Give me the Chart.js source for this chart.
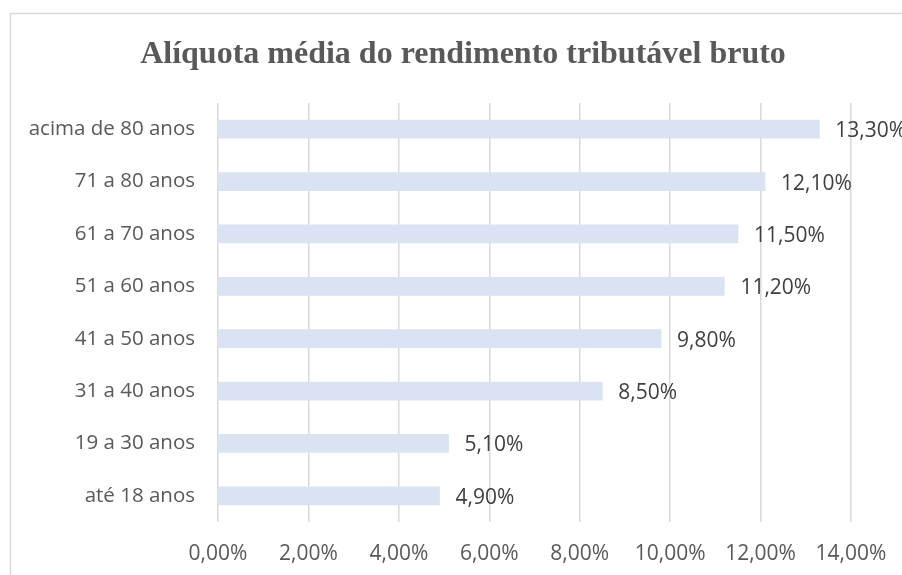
<!DOCTYPE html>
<html>
<head>
<meta charset="utf-8">
<script src="https://cdn.jsdelivr.net/npm/chart.js@4/dist/chart.umd.min.js"></script>
<style>
html,body{margin:0;padding:0;background:#fff;}
#wrap{position:relative;width:902px;height:575px;}
</style>
</head>
<body>
<div id="wrap"><canvas id="c" width="902" height="575"></canvas></div>
<script>
const categories = ["acima de 80 anos","71 a 80 anos","61 a 70 anos","51 a 60 anos","41 a 50 anos","31 a 40 anos","19 a 30 anos","até 18 anos"];
const values = [13.3, 12.1, 11.5, 11.2, 9.8, 8.5, 5.1, 4.9];
const tickValues = [0, 2, 4, 6, 8, 10, 12, 14];
const titleText = "Alíquota média do rendimento tributável bruto";

const fmt = v => v.toFixed(2).replace('.', ',') + '%';
const FONT_FAMILY = "'Open Sans', sans-serif";

const borderPlugin = {
  id: 'frame',
  beforeDraw(chart) {
    const ctx = chart.ctx;
    ctx.save();
    ctx.strokeStyle = '#d9d9d9';
    ctx.lineWidth = 1.5;
    ctx.beginPath();
    ctx.moveTo(10.5, 600);
    ctx.lineTo(10.5, 13.5);
    ctx.lineTo(910, 13.5);
    ctx.stroke();
    ctx.restore();
  }
};

const titlePlugin = {
  id: 'customTitle',
  afterDraw(chart) {
    const ctx = chart.ctx;
    ctx.save();
    ctx.font = "bold 32px 'Liberation Serif', 'Times New Roman', serif";
    ctx.fillStyle = '#595959';
    ctx.textAlign = 'center';
    ctx.textBaseline = 'alphabetic';
    ctx.fillText(titleText, 463, 63);
    ctx.restore();
  }
};

const labelPlugin = {
  id: 'valueLabels',
  afterDatasetsDraw(chart) {
    const ctx = chart.ctx;
    const meta = chart.getDatasetMeta(0);
    ctx.save();
    ctx.font = "21px " + FONT_FAMILY;
    ctx.fillStyle = '#404040';
    ctx.textAlign = 'left';
    ctx.textBaseline = 'middle';
    meta.data.forEach((bar, i) => {
      ctx.fillText(fmt(values[i]), bar.x + 16, bar.y + 2);
    });
    ctx.restore();
  }
};

new Chart(document.getElementById('c'), {
  type: 'bar',
  data: {
    labels: categories,
    datasets: [{
      data: values,
      backgroundColor: '#dae3f3',
      borderWidth: 0,
      barThickness: 18
    }]
  },
  options: {
    indexAxis: 'y',
    responsive: false,
    animation: false,
    layout: {padding: {left: 0, right: 51, top: 103, bottom: 0}},
    plugins: {
      legend: {display: false},
      tooltip: {enabled: false},
      title: {display: false}
    },
    scales: {
      x: {
        min: 0,
        max: 14,
        afterBuildTicks(scale) { scale.ticks = tickValues.map(v => ({value: v})); },
        afterFit(scale) { scale.height = 53; scale.paddingRight = 0; },
        border: {display: false},
        grid: {color: '#d9d9d9', lineWidth: 1.5, drawTicks: false, tickLength: 0},
        ticks: {
          color: '#595959',
          font: {family: FONT_FAMILY, size: 21},
          padding: 19,
          maxRotation: 0,
          callback: v => fmt(v)
        }
      },
      y: {
        afterFit(scale) { scale.width = 218; },
        border: {display: false},
        grid: {display: false, drawTicks: false, tickLength: 0},
        ticks: {
          color: '#595959',
          font: {family: FONT_FAMILY, size: 20.5},
          padding: 23
        }
      }
    }
  },
  plugins: [borderPlugin, labelPlugin, titlePlugin]
});
</script>
</body>
</html>
